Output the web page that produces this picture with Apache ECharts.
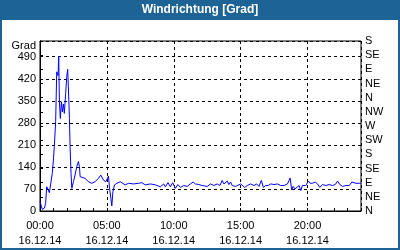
<!DOCTYPE html>
<html>
<head>
<meta charset="utf-8">
<script src="https://cdn.jsdelivr.net/npm/echarts@6/dist/echarts.min.js"></script>
<style>
html,body{margin:0;padding:0;background:#fff;}
#c{width:400px;height:250px;}
</style>
</head>
<body>
<div id="c"></div>
<script>
// Time of day (hours since 00:00 on 16.12.14)
var hours = [
  0.00,0.17,0.33,0.42,0.50,0.62,0.70,0.83,0.92,1.00,1.07,1.17,1.25,1.35,1.40,1.45,1.52,1.60,1.67,1.75,1.82,1.92,
  2.00,2.07,2.12,2.20,2.25,2.32,2.38,2.50,2.62,2.75,2.87,2.95,3.00,3.07,3.37,3.62,3.87,4.12,4.37,4.55,4.75,4.93,
  5.12,5.20,5.30,5.37,5.45,5.57,5.75,6.00,6.37,6.62,7.00,7.37,7.62,7.87,8.25,8.62,9.00,9.25,9.37,9.57,9.75,9.92,
  10.12,10.30,10.50,10.75,11.00,11.25,11.45,11.62,11.87,12.12,12.25,12.50,12.75,13.00,13.25,13.45,13.62,13.75,13.87,
  14.00,14.12,14.25,14.37,14.50,14.62,14.75,15.00,15.12,15.30,15.50,15.75,16.00,16.20,16.37,16.55,16.70,16.87,17.06,17.25,
  17.50,17.75,18.00,18.25,18.50,18.62,18.70,18.82,18.92,19.07,19.20,19.37,19.50,19.62,19.75,19.87,20.07,20.20,20.37,
  20.57,20.75,20.92,21.12,21.37,21.62,21.87,22.07,22.25,22.42,22.62,22.87,23.12,23.32,23.42,23.62,23.87,24.00
];
// Wind direction (degrees)
var direction = [
  30,5,9,24,77,67,58,58,120,162,204,284,442,430,492,347,294,347,315,340,310,374,
  427,450,395,294,204,120,72,93,114,141,157,141,109,114,104,93,88,93,104,114,98,93,
  111,72,40,16,61,83,88,93,83,88,86,88,90,83,86,83,77,86,77,90,77,90,
  72,84,75,81,78,86,92,86,84,81,86,78,86,81,86,81,97,86,81,
  95,84,92,81,86,78,84,86,81,75,81,86,81,86,78,97,75,81,81,86,
  84,86,81,81,86,97,105,67,78,70,75,81,65,81,86,81,95,88,88,
  92,86,75,84,81,84,81,84,95,84,78,81,81,92,95,88,88,88
];
var timeLabels = ['00:00','05:00','10:00','15:00','20:00'];
var dateLabel = '16.12.14';
var compassLabels = ['N','NE','E','SE','S','SW','W','NW','N','NE','E','SE','S'];
var titleText = 'Windrichtung [Grad]';
var unitLabel = 'Grad';

var seriesData = hours.map(function(h, i){ return [h, direction[i]]; });

var FONT = 'Liberation Sans';
var BLUE = '#1d6396';

var chart = echarts.init(document.getElementById('c'), null, {renderer:'canvas'});
chart.setOption({
  animation: false,
  backgroundColor: '#ffffff',
  title: {
    text: titleText,
    left: 'center',
    top: 3,
    padding: 0,
    textStyle: {color:'#ffffff', fontSize: 12, fontWeight: 'bold', fontFamily: FONT, lineHeight: 14}
  },
  graphic: [
    {type:'rect', z:-10, silent:true, shape:{x:0,y:0,width:400,height:20}, style:{fill:BLUE}},
    {type:'rect', z:-10, silent:true, shape:{x:1,y:1,width:398,height:248}, style:{fill:null, stroke:BLUE, lineWidth:2}}
  ],
  grid: {left:40, right:39, top:41, bottom:39, show:true, borderColor:'#000', borderWidth:1, backgroundColor:'transparent'},
  xAxis: [
    {
      type:'value', min:0, max:24, interval:5, position:'bottom',
      axisLine:{show:true, lineStyle:{color:'#000', width:1}},
      axisTick:{show:false},
      axisLabel:{
        show:true, margin:7, color:'#000', fontSize:11, fontFamily:FONT, lineHeight:15,
        showMaxLabel:false,
        formatter:function(v){
          var idx = v/5;
          if (Math.round(idx) === idx && idx < timeLabels.length) return timeLabels[idx] + '\n' + dateLabel;
          return '';
        }
      },
      splitLine:{show:true, lineStyle:{color:'#000', width:1, type:[3,3]}}
    },
    {
      type:'value', min:0, max:24, interval:1, position:'bottom',
      axisLine:{show:false},
      axisTick:{show:true, inside:true, length:3, lineStyle:{color:'#000'}},
      axisLabel:{show:false},
      splitLine:{show:false}
    }
  ],
  yAxis: [
    {
      type:'value', min:0, max:540, interval:70, position:'left',
      name: unitLabel, nameLocation:'end', nameGap:-6,
      nameTextStyle:{color:'#000', fontSize:11, fontFamily:FONT, align:'right', verticalAlign:'middle', padding:[0,4,0,0]},
      axisLine:{show:true, lineStyle:{color:'#000', width:1}},
      axisTick:{show:false},
      axisLabel:{show:true, margin:4, color:'#000', fontSize:11, fontFamily:FONT, showMaxLabel:false},
      splitLine:{show:true, lineStyle:{color:'#000', width:1, type:[3,3]}}
    },
    {
      type:'value', min:0, max:540, interval:45, position:'right',
      axisLine:{show:true, lineStyle:{color:'#000', width:1}},
      axisTick:{show:true, inside:false, length:3, lineStyle:{color:'#000'}},
      axisLabel:{show:true, margin:4, color:'#000', fontSize:11, fontFamily:FONT,
        formatter:function(v){ return compassLabels[Math.round(v/45)] || ''; }},
      splitLine:{show:false}
    }
  ],
  series: [{
    type:'line', xAxisIndex:0, yAxisIndex:0,
    data: seriesData,
    showSymbol:false, symbol:'none',
    lineStyle:{color:'#0000ff', width:1},
    itemStyle:{color:'#0000ff'},
    clip:true
  }]
});
</script>
</body>
</html>
